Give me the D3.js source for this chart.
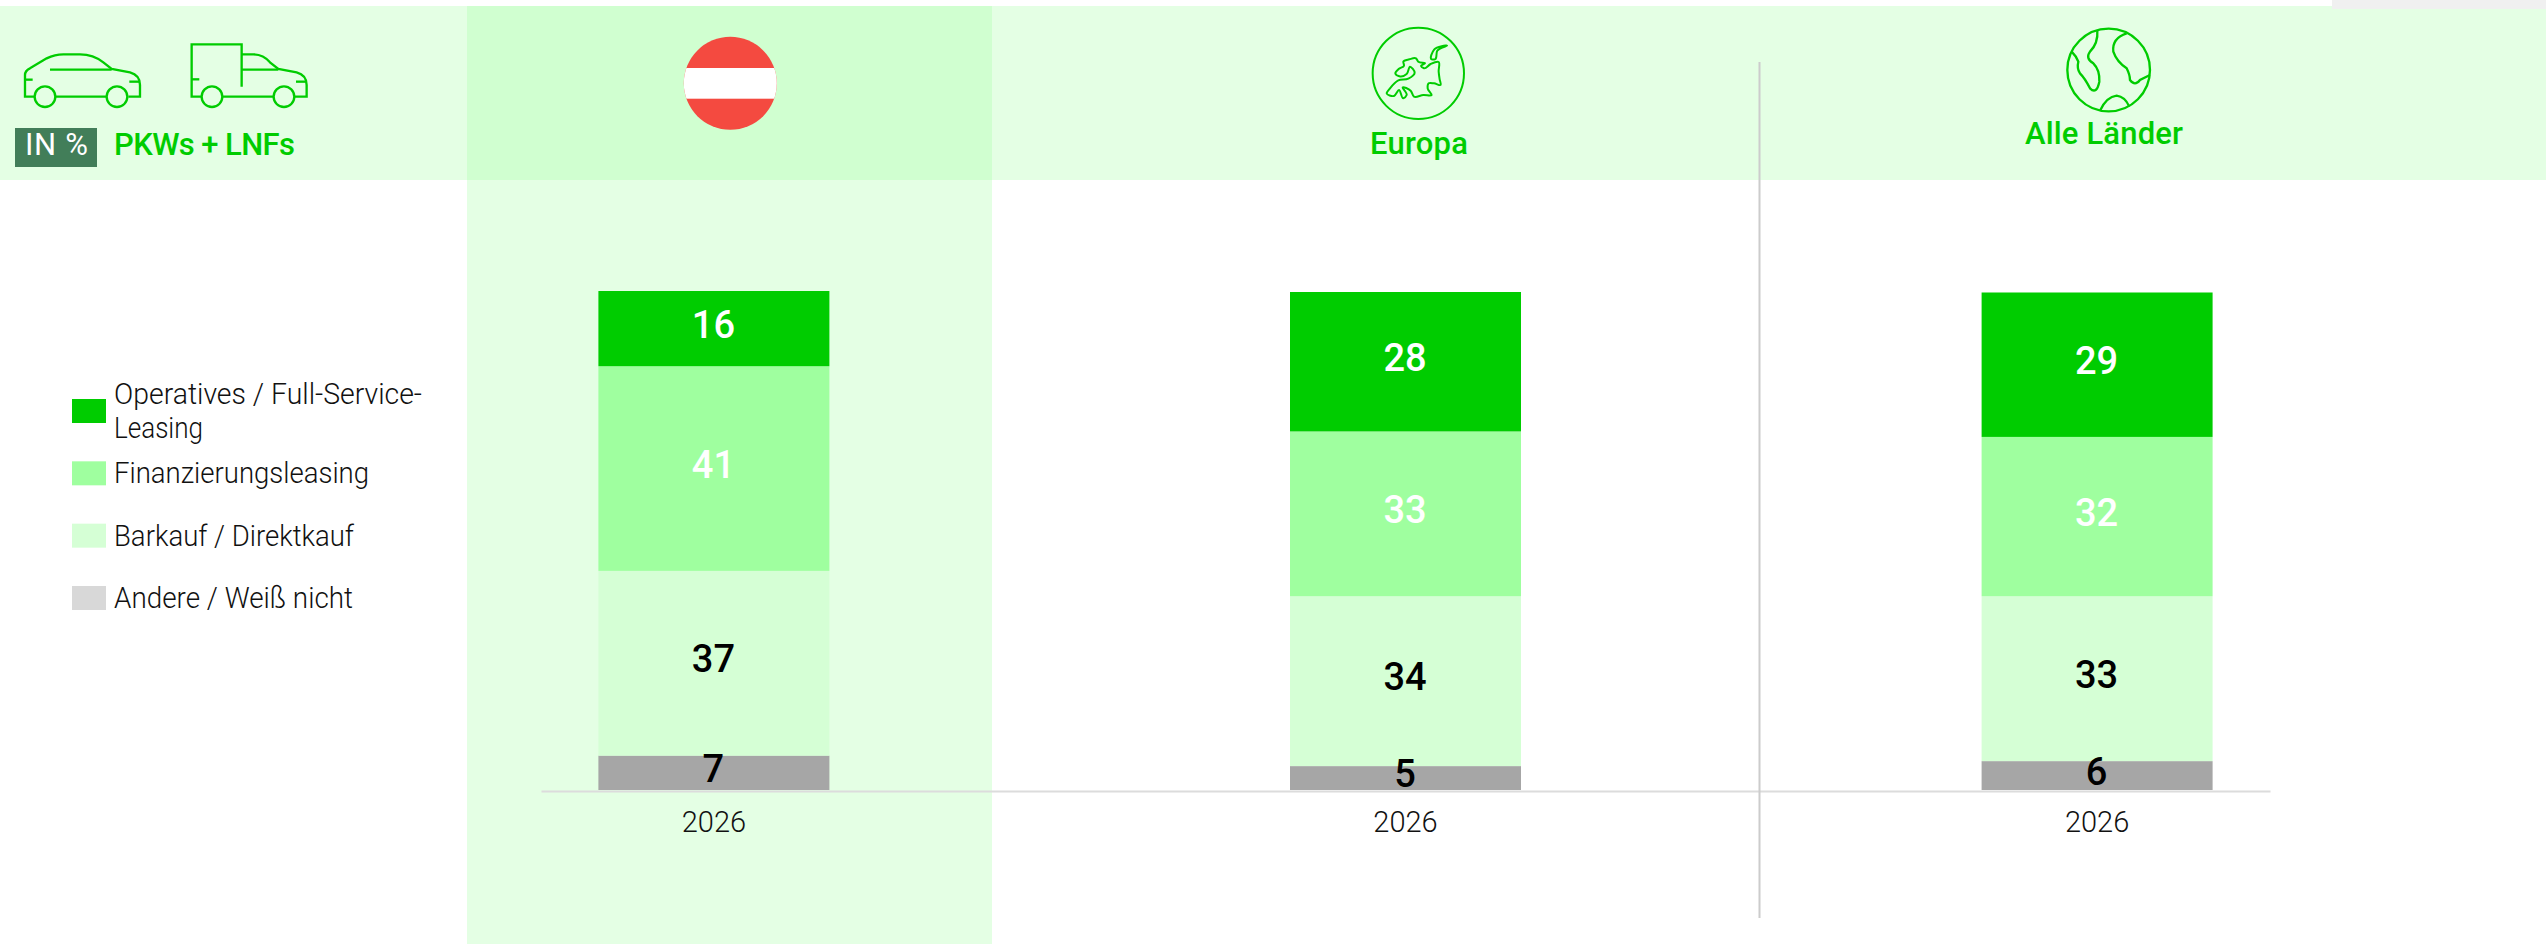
<!DOCTYPE html>
<html lang="de">
<head>
<meta charset="utf-8">
<title>PKWs + LNFs</title>
<script src="https://cdn.jsdelivr.net/npm/d3@7"></script>
<style>
html,body{margin:0;padding:0;background:#fff;overflow:hidden}
svg{display:block}
text{font-family:Roboto,"Open Sans",sans-serif}
</style>
</head>
<body>
<div id="chart"></div>
<script>
// ---- data ----
const categories = ["Österreich", "Europa", "Alle Länder"];
const years = ["2026", "2026", "2026"];
const seriesNames = ["Andere / Weiß nicht", "Barkauf / Direktkauf", "Finanzierungsleasing", "Operatives / Full-Service-Leasing"];
// drawn segment lengths, as measured on the bars (per cent of the bar)
const andere     = [6.9, 4.8, 5.8];
const barkauf    = [37.1, 34.1, 33.1];
const finanz     = [41.1, 33.1, 32.0];
const operativ   = [15.1, 28.0, 29.0];
// printed labels
const labelAndere   = [7, 5, 6];
const labelBarkauf  = [37, 34, 33];
const labelFinanz   = [41, 33, 32];
const labelOperativ = [16, 28, 29];
const legendOrder = ["Operatives / Full-Service-Leasing", "Finanzierungsleasing", "Barkauf / Direktkauf", "Andere / Weiß nicht"];
const legendLines = [["Operatives / Full-Service-", "Leasing"], ["Finanzierungsleasing"], ["Barkauf / Direktkauf"], ["Andere / Weiß nicht"]];
const headerTitles = ["Europa", "Alle Länder"];

// ---- styles ----
const GREEN = "#00cc00";
const barFill = d3.scaleOrdinal(seriesNames, ["#a6a6a6", "#d5ffd5", "#9fff9f", "#00cc00"]);
const legendFill = d3.scaleOrdinal(seriesNames, ["#d8d8d8", "#d5ffd5", "#9fff9f", "#00cc00"]);
const labelFill = d3.scaleOrdinal(seriesNames, ["#000", "#000", "#fff", "#fff"]);

const W = 2546, H = 944;
const svg = d3.select("#chart").append("svg").attr("width", W).attr("height", H).attr("viewBox", [0, 0, W, H]);

// ---- background ----
const BAND_LIGHT = "#e4ffe4", BAND_DARK = "#d0ffd0";
svg.append("rect").attr("x", 0).attr("y", 6).attr("width", W).attr("height", 174).attr("fill", BAND_LIGHT);
svg.append("rect").attr("x", 2332).attr("y", 0).attr("width", 214).attr("height", 9).attr("fill", "#f0f0f0");
svg.append("rect").attr("x", 467).attr("y", 180).attr("width", 525).attr("height", 764).attr("fill", BAND_LIGHT);
svg.append("rect").attr("x", 467).attr("y", 6).attr("width", 525).attr("height", 174).attr("fill", BAND_DARK);

// ---- scales ----
const x = d3.scaleBand().domain(categories).range([541, 2270]).paddingInner(0.666).paddingOuter(0.083);
const y = d3.scaleLinear().domain([0, 100]).range([790, 292]);

// ---- stacked bars ----
const table = categories.map((c, i) => ({
  category: c,
  [seriesNames[0]]: andere[i], [seriesNames[1]]: barkauf[i], [seriesNames[2]]: finanz[i], [seriesNames[3]]: operativ[i]
}));
const printed = [labelAndere, labelBarkauf, labelFinanz, labelOperativ];
const stacked = d3.stack().keys(seriesNames)(table);

const layers = svg.append("g").selectAll("g").data(stacked).join("g").attr("fill", d => barFill(d.key));
layers.selectAll("rect").data(d => d).join("rect")
  .attr("x", d => x(d.data.category))
  .attr("width", x.bandwidth())
  .attr("y", d => y(d[1]))
  .attr("height", d => y(d[0]) - y(d[1]));

// ---- axis ----
const axis = svg.append("g").attr("transform", "translate(0,791)")
  .call(d3.axisBottom(x).tickSize(0).tickPadding(20).tickFormat((d, i) => years[i]));
axis.select(".domain").attr("stroke", "#dcdcdc").attr("stroke-width", 2);
axis.selectAll("text").attr("font-size", 29).attr("font-weight", 300).attr("fill", "#111").attr("font-family", "Roboto");

// ---- value labels ----
svg.append("g").selectAll("g").data(stacked).join("g").each(function (layer, k) {
  d3.select(this).selectAll("text").data(layer).join("text")
    .attr("x", d => x(d.data.category) + x.bandwidth() / 2 - 0.5)
    .attr("y", d => (y(d[0]) + y(d[1])) / 2 - 5 + 14)
    .attr("text-anchor", "middle")
    .attr("font-size", 38).attr("font-weight", 500)
    .attr("fill", labelFill(layer.key))
    .text((d, i) => printed[k][i]);
});

// ---- legend ----
const legendY = d3.scalePoint().domain(legendOrder).range([411, 598]);
const legendWidths = [[308, 89], [255], [240], [239]];
const legend = svg.append("g").selectAll("g").data(legendOrder).join("g");
legend.append("rect").attr("x", 72).attr("width", 34).attr("height", 24)
  .attr("y", d => legendY(d) - 12).attr("fill", d => legendFill(d));
legend.each(function (d, i) {
  const lines = legendLines[i];
  const base = legendY(d) + (lines.length > 1 ? -7 : 10);
  d3.select(this).selectAll("text").data(lines).join("text")
    .attr("x", 114).attr("y", (l, j) => base + j * 34)
    .attr("font-size", 29).attr("font-weight", 300).attr("fill", "#111")
    .attr("textLength", (l, j) => legendWidths[i][j]).attr("lengthAdjust", "spacingAndGlyphs")
    .text(l => l);
});

// ---- header: label and vehicles ----
svg.append("rect").attr("x", 15).attr("y", 128).attr("width", 82).attr("height", 39).attr("fill", "#427e59");
svg.append("text").attr("x", 25).attr("y", 155).attr("font-size", 31).attr("font-weight", 400).attr("fill", "#fff")
  .attr("textLength", 63).text("IN %");
svg.append("text").attr("x", 114).attr("y", 155).attr("font-size", 31).attr("font-weight", 500).attr("fill", GREEN)
  .attr("textLength", 181).text("PKWs + LNFs");

const line = (g, d) => g.append("path").attr("d", d).attr("fill", "none").attr("stroke", GREEN);
const icons = svg.append("g").attr("transform", "scale(0.3333)").attr("stroke-width", 7);
[
  "M105,290L75,290L75,225Q75,212 90,205L140,175Q165,163 190,163L240,163Q280,163 310,187L335,207L390,217Q420,225 420,255L420,290L385,290",
  "M168,290L318,290", "M150,209L335,209", "M75,239L98,239", "M388,245L420,245",
  "M605,290L575,290L575,133L725,133L725,260", "M725,163L760,163Q790,163 810,187L835,207L890,217Q920,225 920,255L920,290L885,290",
  "M668,290L820,290", "M725,209L835,209", "M575,238L598,238", "M888,245L920,245"
].forEach(d => line(icons, d));
[135, 351, 636, 852].forEach(cx => icons.append("circle").attr("cx", cx).attr("cy", 290).attr("r", 31)
  .attr("fill", "none").attr("stroke", GREEN));

// ---- header: Austria flag ----
const clip = svg.append("clipPath").attr("id", "flag");
clip.append("circle").attr("cx", 730.3).attr("cy", 83.3).attr("r", 46.5);
const flag = svg.append("g").attr("clip-path", "url(#flag)");
flag.append("rect").attr("x", 680).attr("y", 30).attr("width", 100).attr("height", 110).attr("fill", "#f44a40");
flag.append("rect").attr("x", 680).attr("y", 68).attr("width", 100).attr("height", 30.7).attr("fill", "#fff");

// ---- header: Europe ----
const eu = svg.append("g").attr("transform", "translate(1340,0) scale(0.3333)").attr("stroke-width", 6);
eu.append("circle").attr("cx", 235).attr("cy", 220).attr("r", 137).attr("fill", "none").attr("stroke", GREEN);
const closed = d3.line().curve(d3.curveCatmullRomClosed.alpha(1));
const europeOutline = [[166,220],[176,207],[192,197],[190,185],[208,178],[228,175],[235,185],[255,190],[243,198],[252,205],[272,192],[296,186],[296,215],[299,238],[302,255],[282,250],[266,250],[263,265],[275,285],[250,285],[222,290],[212,272],[188,262],[200,285],[190,295],[177,270],[162,288],[140,280],[150,265],[175,241],[205,236],[224,218],[210,200],[200,222],[178,229]];
const novaya = [[275,178],[283,148],[321,137],[292,152],[285,178]];
line(eu, closed(europeOutline));
line(eu, closed(novaya));

// ---- header: world ----
const world = svg.append("g").attr("transform", "translate(2000,0) scale(0.3333)").attr("stroke-width", 7);
world.append("circle").attr("cx", 326).attr("cy", 210).attr("r", 124).attr("fill", "none").attr("stroke", GREEN);
[
  "M292,90Q295,130 270,155Q255,175 280,190Q300,210 298,245Q290,285 270,265Q255,235 240,220Q230,205 235,185Q230,170 215,155",
  "M380,100Q335,115 340,155Q350,185 380,205Q390,225 390,240Q405,260 420,240L450,225",
  "M300,332Q320,290 350,287Q375,290 388,320"
].forEach(d => line(world, d));

svg.append("text").attr("x", 1370).attr("y", 154).attr("font-size", 31).attr("font-weight", 500).attr("fill", GREEN)
  .attr("textLength", 98).text(headerTitles[0]);
svg.append("text").attr("x", 2025).attr("y", 144).attr("font-size", 31).attr("font-weight", 500).attr("fill", GREEN)
  .attr("textLength", 158).text(headerTitles[1]);

// ---- divider ----
svg.append("line").attr("x1", 1759.5).attr("x2", 1759.5).attr("y1", 62).attr("y2", 918).attr("stroke", "#cccccc").attr("stroke-width", 2);
</script>
</body>
</html>
